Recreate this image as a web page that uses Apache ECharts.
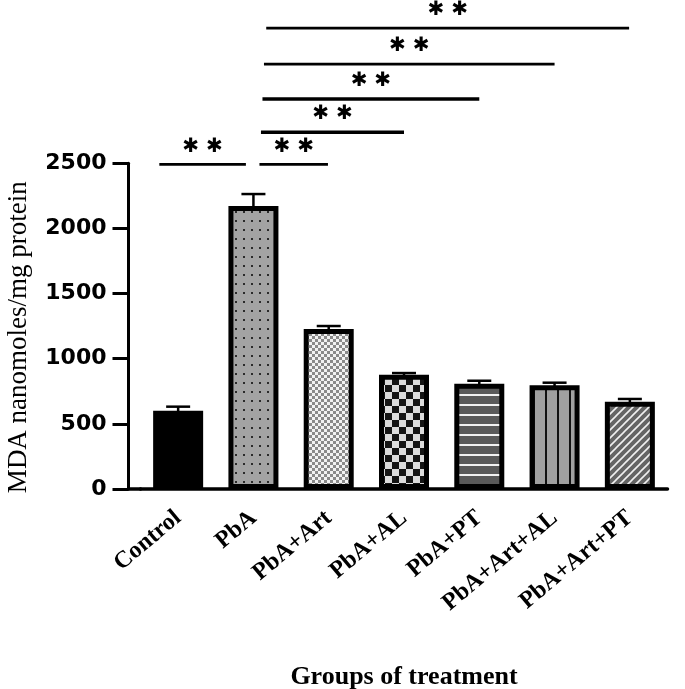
<!DOCTYPE html>
<html><head><meta charset="utf-8">
<script src="https://cdn.jsdelivr.net/npm/echarts@6/dist/echarts.min.js"></script>
<style>html,body{margin:0;padding:0;background:#fff}#c{width:685px;height:689px}</style>
</head><body><div id="c"></div>
<script>
const categories = ['Control', 'PbA', 'PbA+Art', 'PbA+AL', 'PbA+PT', 'PbA+Art+AL', 'PbA+Art+PT'];
const meanValues = [601, 2172, 1228, 877, 808, 796, 670];
const errorValues = [31, 92, 23, 13, 23, 20, 21];
const yTicks = [0, 500, 1000, 1500, 2000, 2500];
const bracketFrom = [-0.25, 1.08, 1.10, 1.12, 1.14, 1.17];
const bracketTo = [0.90, 1.99, 3.00, 4.00, 5.00, 5.99];
const bracketLevel = [2492, 2492, 2738, 2994, 3262, 3538];
const bracketLabel = ['**', '**', '**', '**', '**', '**'];

function tile(w, h, draw) {
  const c = document.createElement('canvas');
  c.width = w; c.height = h;
  const g = c.getContext('2d');
  draw(g, w, h);
  return c;
}
const patterns = [
  null,
  tile(8, 9, (g) => { g.fillStyle = '#a3a3a3'; g.fillRect(0, 0, 8, 9); g.fillStyle = '#2a2a2a'; g.fillRect(3, 4, 2, 2); }),
  tile(6, 6, (g) => { g.fillStyle = '#f2f2f2'; g.fillRect(0, 0, 6, 6); g.fillStyle = '#8a8a8a'; g.fillRect(0, 0, 3, 3); g.fillRect(3, 3, 3, 3); }),
  tile(14, 14, (g) => { g.fillStyle = '#dcdcdc'; g.fillRect(0, 0, 14, 14); g.fillStyle = '#151515'; g.fillRect(0, 0, 7, 7); g.fillRect(7, 7, 7, 7); }),
  tile(10, 10, (g) => { g.fillStyle = '#595959'; g.fillRect(0, 0, 10, 10); g.fillStyle = '#f0f0f0'; g.fillRect(0, 4, 10, 2); }),
  tile(12, 10, (g) => { g.fillStyle = '#a0a0a0'; g.fillRect(0, 0, 12, 10); g.fillStyle = '#111'; g.fillRect(5, 0, 2, 10); }),
  tile(8, 8, (g) => { g.fillStyle = '#656565'; g.fillRect(0, 0, 8, 8); g.strokeStyle = '#f0f0f0'; g.lineWidth = 1.6;
    g.beginPath(); g.moveTo(-1, 9); g.lineTo(9, -1); g.moveTo(-1, 1); g.lineTo(1, -1); g.moveTo(7, 9); g.lineTo(9, 7); g.stroke(); })
];

const chart = echarts.init(document.getElementById('c'), null, { renderer: 'canvas' });

const barData = meanValues.map((v, i) => ({
  value: v,
  itemStyle: { color: patterns[i] ? { image: patterns[i], repeat: 'repeat' } : '#000' }
}));
const errData = meanValues.map((v, i) => [i, v, v + errorValues[i]]);

const option = {
  animation: false,
  backgroundColor: '#fff',
  grid: { left: 140.5, right: 17.5, top: 163.3, bottom: 200, containLabel: false, outerBoundsMode: 'none' },
  xAxis: {
    type: 'category',
    data: categories,
    name: 'Groups of treatment',
    nameLocation: 'middle',
    nameGap: 175,
    nameTextStyle: { fontFamily: 'Liberation Serif', fontWeight: 'bold', fontSize: 26, color: '#000' },
    axisLine: { lineStyle: { color: '#000', width: 3.5 } },
    axisTick: { alignWithLabel: true, length: 13, lineStyle: { color: '#000', width: 3 } },
    axisLabel: { rotate: 40, margin: 26, interval: 0, fontFamily: 'Liberation Serif', fontWeight: 'bold', fontSize: 24, color: '#000' }
  },
  yAxis: {
    type: 'value',
    min: 0, max: 2500, interval: 500,
    offset: 12,
    name: 'MDA nanomoles/mg protein',
    nameLocation: 'middle',
    nameGap: 96,
    nameTextStyle: { fontFamily: 'Liberation Serif', fontSize: 27, color: '#000', padding: [0, 22, 0, 0] },
    splitLine: { show: false },
    axisLine: { show: true, lineStyle: { color: '#000', width: 3 } },
    axisTick: { show: true, length: 16, lineStyle: { color: '#000', width: 3 } },
    axisLabel: {
      margin: 22, fontFamily: 'DejaVu Sans', fontWeight: 'bold', fontSize: 22, color: '#000',
      formatter: (v) => (yTicks.indexOf(v) >= 0 ? String(v) : '')
    }
  },
  series: [
    {
      type: 'custom',
      z: 1,
      data: errData,
      renderItem: (params, api) => {
        const base = api.coord([api.value(0), api.value(1)]);
        const top = api.coord([api.value(0), api.value(2)]);
        const st = { stroke: '#000', lineWidth: 2.5 };
        return {
          type: 'group',
          children: [
            { type: 'line', shape: { x1: base[0], y1: base[1] + 4, x2: top[0], y2: top[1] }, style: st },
            { type: 'line', shape: { x1: top[0] - 12, y1: top[1], x2: top[0] + 12, y2: top[1] }, style: st }
          ]
        };
      }
    },
    {
      type: 'bar',
      z: 2,
      barWidth: 50,
      data: barData,
      itemStyle: { borderColor: '#000', borderWidth: 5 }
    }
  ]
};
chart.setOption(option);

function drawExtras() {
  const x0 = chart.convertToPixel({ xAxisIndex: 0 }, 0);
  const x1 = chart.convertToPixel({ xAxisIndex: 0 }, 1);
  const bw = x1 - x0;
  const yZero = chart.convertToPixel({ yAxisIndex: 0 }, 0);
  const gridLeft = option.grid.left;
  const els = [];
  els.push({ type: 'line', shape: { x1: gridLeft - option.yAxis.offset - 1.5, y1: yZero, x2: gridLeft + 1, y2: yZero }, style: { stroke: '#000', lineWidth: 3.5 } });
  bracketFrom.forEach((f, i) => {
    const xa = x0 + f * bw;
    const xb = x0 + bracketTo[i] * bw;
    const y = chart.convertToPixel({ yAxisIndex: 0 }, bracketLevel[i]);
    els.push({ type: 'line', shape: { x1: xa, y1: y, x2: xb, y2: y }, style: { stroke: '#000', lineWidth: (i === 2 || i === 3) ? 3.5 : 2.8 } });
    els.push({ type: 'text', x: (xa + xb) / 2, y: y - 18, style: { text: bracketLabel[i].split('').map(() => '\u2731').join(' '), font: 'bold 20px "DejaVu Sans"', fill: '#000', align: 'center', verticalAlign: 'middle' } });
  });
  chart.setOption({ graphic: els });
}
drawExtras();
</script>
</body></html>
